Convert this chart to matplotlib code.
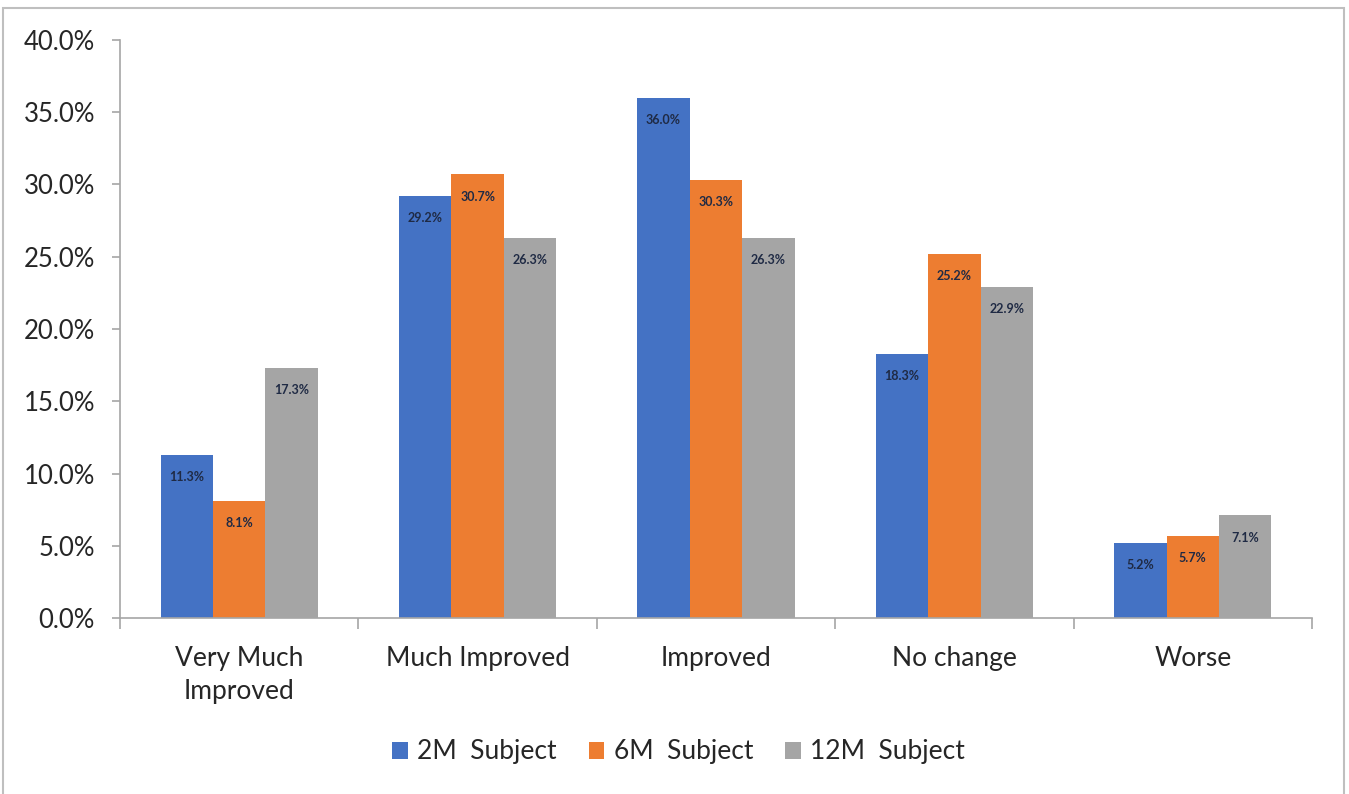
import matplotlib
matplotlib.use("Agg")
import matplotlib.pyplot as plt
from matplotlib.patches import Rectangle
from matplotlib.ticker import FuncFormatter, FixedLocator
import numpy as np

categories = ["Very Much\nImproved", "Much Improved", "Improved", "No change", "Worse"]
series_names = ["2M  Subject", "6M  Subject", "12M  Subject"]
s2m = [11.3, 29.2, 36.0, 18.3, 5.2]
s6m = [8.1, 30.7, 30.3, 25.2, 5.7]
s12m = [17.3, 26.3, 26.3, 22.9, 7.1]
colors = ["#4472C4", "#ED7D31", "#A5A5A5"]
yticks = [0, 5, 10, 15, 20, 25, 30, 35, 40]

plt.rcParams['font.family'] = ['Lato', 'DejaVu Sans']

fig = plt.figure(figsize=(13.49, 7.94), dpi=100)
fig.patches.append(Rectangle((3/1349, 1-800/794), (1344-3)/1349, (800-8)/794,
                             transform=fig.transFigure, fill=False,
                             edgecolor="#BFBFBF", linewidth=1.5))
ax = fig.add_axes([120/1349, 1-618/794, (1312-120)/1349, (618-40)/794])

x = np.arange(len(categories))
w = 0.22
all_series = [s2m, s6m, s12m]
for i, (vals, c, name) in enumerate(zip(all_series, colors, series_names)):
    bars = ax.bar(x + (i-1)*w, vals, width=w, color=c, label=name, zorder=2)
    for b, v in zip(bars, vals):
        ax.annotate(f"{v:.1f}%", (b.get_x()+b.get_width()/2, v),
                    xytext=(0, -16), textcoords="offset points",
                    ha="center", va="center", fontsize=9,
                    color="#1F2A44", fontweight="bold")

ax.set_xlim(-0.5, 4.5)
ax.set_ylim(0, 40)
ax.set_yticks(yticks)
ax.yaxis.set_major_formatter(FuncFormatter(lambda v, p: f"{v:.1f}%"))
ax.set_xticks(x)
ax.set_xticklabels(categories, fontsize=19, color="#262626", linespacing=1.4)
ax.xaxis.set_minor_locator(FixedLocator(np.arange(-0.5, 5, 1)))
ax.tick_params(axis="x", which="major", length=0, pad=20)
ax.tick_params(axis="x", which="minor", length=8, color="#A6A6A6", width=1.2, direction="out")
ax.tick_params(axis="y", length=6, color="#A6A6A6", width=1.2, labelsize=18.5,
               labelcolor="#262626", pad=12)
for s in ["top", "right"]:
    ax.spines[s].set_visible(False)
for s in ["left", "bottom"]:
    ax.spines[s].set_color("#A6A6A6")
    ax.spines[s].set_linewidth(1.2)

fig.legend(loc="center", bbox_to_anchor=(0.503, 1-752/794), ncol=3, frameon=False,
           fontsize=19, handlelength=0.6, handleheight=0.6, handletextpad=0.35,
           columnspacing=1.2, labelcolor="#262626")

fig.savefig("out.png", dpi=100, facecolor="white")
